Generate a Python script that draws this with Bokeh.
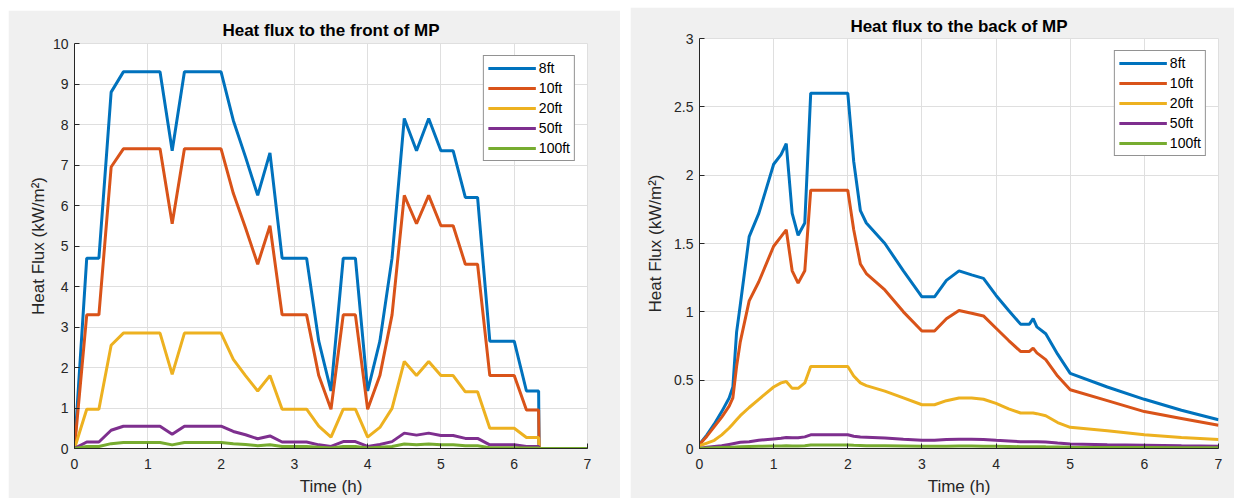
from bokeh.plotting import figure
from bokeh.models import Range1d, FixedTicker, Legend, LegendItem
from bokeh.layouts import row, column
from bokeh.embed import file_html
from bokeh.resources import INLINE

series_names = ["8ft", "10ft", "20ft", "50ft", "100ft"]
series_colors = ["#0072BD", "#D95319", "#EDB120", "#7E2F8E", "#77AC30"]

# ---- Heat flux to the front of MP ----
front_time = [0, 0.167, 0.333, 0.5, 0.667, 0.833, 1.0, 1.167, 1.333, 1.5, 1.667, 1.833,
              2.0, 2.167, 2.333, 2.5, 2.667, 2.833, 3.0, 3.167, 3.333, 3.5, 3.667, 3.833,
              4.0, 4.167, 4.333, 4.5, 4.667, 4.833, 5.0, 5.167, 5.333, 5.5, 5.667, 5.833,
              6.0, 6.167, 6.333, 6.34, 6.5, 6.667, 6.833, 7.0]
front_8ft = [0, 4.7, 4.7, 8.8, 9.3, 9.3, 9.3, 9.3, 7.35, 9.3, 9.3, 9.3, 9.3, 8.1, 7.2, 6.25,
             7.3, 4.7, 4.7, 4.7, 2.65, 1.42, 4.7, 4.7, 1.42, 2.65, 4.7, 8.15, 7.35, 8.15,
             7.35, 7.35, 6.2, 6.2, 2.65, 2.65, 2.65, 1.42, 1.42, 0, 0, 0, 0, 0]
front_10ft = [0, 3.3, 3.3, 6.95, 7.4, 7.4, 7.4, 7.4, 5.55, 7.4, 7.4, 7.4, 7.4, 6.3, 5.45,
              4.55, 5.5, 3.3, 3.3, 3.3, 1.8, 0.97, 3.3, 3.3, 0.97, 1.8, 3.3, 6.25, 5.55,
              6.25, 5.5, 5.5, 4.55, 4.55, 1.8, 1.8, 1.8, 0.95, 0.95, 0, 0, 0, 0, 0]
front_20ft = [0, 0.97, 0.97, 2.55, 2.85, 2.85, 2.85, 2.85, 1.83, 2.85, 2.85, 2.85, 2.85,
              2.2, 1.8, 1.42, 1.8, 0.97, 0.97, 0.97, 0.55, 0.28, 0.97, 0.97, 0.28, 0.52,
              0.99, 2.15, 1.8, 2.15, 1.8, 1.8, 1.4, 1.4, 0.5, 0.5, 0.5, 0.27, 0.27,
              0, 0, 0, 0, 0]
front_50ft = [0, 0.16, 0.16, 0.45, 0.55, 0.55, 0.55, 0.55, 0.35, 0.55, 0.55, 0.55, 0.55,
              0.42, 0.34, 0.24, 0.31, 0.16, 0.16, 0.16, 0.09, 0.05, 0.17, 0.17, 0.05, 0.1,
              0.17, 0.38, 0.33, 0.38, 0.32, 0.32, 0.25, 0.25, 0.09, 0.09, 0.09, 0.05, 0.05,
              0, 0, 0, 0, 0]
front_100ft = [0, 0.05, 0.05, 0.12, 0.15, 0.15, 0.15, 0.15, 0.09, 0.15, 0.15, 0.15, 0.15,
               0.12, 0.1, 0.07, 0.09, 0.05, 0.05, 0.05, 0.03, 0.01, 0.05, 0.05, 0.01, 0.03,
               0.05, 0.11, 0.09, 0.11, 0.09, 0.09, 0.07, 0.07, 0.02, 0.02, 0.02, 0.01, 0.01,
               0, 0, 0, 0, 0]

# ---- Heat flux to the back of MP ----
back_time = [0, 0.1, 0.2, 0.3, 0.4, 0.45, 0.5, 0.55, 0.67, 0.8, 1.0, 1.1, 1.17, 1.25, 1.33,
             1.42, 1.5, 2.0, 2.08, 2.17, 2.25, 2.5, 2.75, 3.0, 3.17, 3.33, 3.5, 3.67, 3.83,
             4.0, 4.17, 4.33, 4.45, 4.5, 4.55, 4.67, 4.83, 5.0, 5.5, 6.0, 6.5, 7.0]
back_8ft = [0.03, 0.1, 0.18, 0.27, 0.37, 0.45, 0.85, 1.05, 1.55, 1.72, 2.08, 2.15, 2.23,
            1.72, 1.56, 1.65, 2.6, 2.6, 2.1, 1.74, 1.65, 1.5, 1.3, 1.11, 1.11, 1.23, 1.3,
            1.27, 1.245, 1.12, 1.01, 0.91, 0.91, 0.95, 0.89, 0.84, 0.69, 0.55, 0.45, 0.36,
            0.28, 0.21]
back_10ft = [0.03, 0.09, 0.16, 0.23, 0.31, 0.37, 0.6, 0.78, 1.08, 1.22, 1.48, 1.55, 1.6,
             1.3, 1.21, 1.3, 1.89, 1.89, 1.6, 1.35, 1.28, 1.16, 1.0, 0.86, 0.86, 0.95, 1.01,
             0.99, 0.97, 0.88, 0.79, 0.71, 0.71, 0.735, 0.7, 0.65, 0.53, 0.43, 0.35, 0.27,
             0.22, 0.17]
back_20ft = [0.02, 0.04, 0.06, 0.1, 0.15, 0.18, 0.21, 0.24, 0.3, 0.36, 0.45, 0.48, 0.49,
             0.44, 0.44, 0.48, 0.6, 0.6, 0.53, 0.48, 0.46, 0.42, 0.37, 0.32, 0.32, 0.35,
             0.37, 0.37, 0.36, 0.33, 0.29, 0.26, 0.26, 0.26, 0.255, 0.24, 0.19, 0.155, 0.13,
             0.1, 0.08, 0.065]
back_50ft = [0.0, 0.01, 0.015, 0.02, 0.03, 0.035, 0.04, 0.045, 0.05, 0.06, 0.07, 0.075, 0.08,
             0.078, 0.078, 0.085, 0.1, 0.1, 0.09, 0.085, 0.083, 0.077, 0.068, 0.06, 0.06,
             0.065, 0.068, 0.067, 0.066, 0.06, 0.055, 0.05, 0.05, 0.05, 0.05, 0.047, 0.04,
             0.033, 0.028, 0.024, 0.02, 0.017]
back_100ft = [0.0, 0.003, 0.005, 0.007, 0.009, 0.01, 0.011, 0.012, 0.014, 0.016, 0.018,
              0.019, 0.02, 0.019, 0.019, 0.02, 0.025, 0.025, 0.023, 0.022, 0.021, 0.02,
              0.018, 0.016, 0.016, 0.017, 0.018, 0.018, 0.017, 0.016, 0.015, 0.013, 0.013,
              0.013, 0.013, 0.012, 0.011, 0.009, 0.008, 0.007, 0.006, 0.005]

x_ticks = [0, 1, 2, 3, 4, 5, 6, 7]
x_labels = ["0", "1", "2", "3", "4", "5", "6", "7"]
front_y_ticks = [0, 1, 2, 3, 4, 5, 6, 7, 8, 9, 10]
front_y_labels = ["0", "1", "2", "3", "4", "5", "6", "7", "8", "9", "10"]
back_y_ticks = [0, 0.5, 1, 1.5, 2, 2.5, 3]
back_y_labels = ["0", "0.5", "1", "1.5", "2", "2.5", "3"]

FONT = "Liberation Sans"
AX = "#262626"
GRID = "#dfdfdf"


def build(title, times, series, y_max, y_ticks, y_labels, width, height, b_left, b_right,
          b_top, b_bottom, title_standoff, ylab_standoff):
    p = figure(width=width, height=height, output_backend="svg", toolbar_location=None,
               x_range=Range1d(0, 7), y_range=Range1d(0, y_max),
               min_border_left=b_left, min_border_right=b_right,
               min_border_top=b_top, min_border_bottom=b_bottom)
    p.border_fill_color = "#f0f0f0"
    p.background_fill_color = "white"
    p.outline_line_color = GRID

    p.title.text = title
    p.title.align = "center"
    p.title.text_font = FONT
    p.title.text_font_size = "17px"
    p.title.text_font_style = "bold"
    p.title.text_color = "black"
    p.title.standoff = title_standoff

    for ax in (p.xaxis[0], p.yaxis[0]):
        ax.axis_line_color = AX
        ax.major_tick_line_color = AX
        ax.major_tick_in = 5
        ax.major_tick_out = 0
        ax.minor_tick_line_color = None
        ax.major_label_text_font = FONT
        ax.major_label_text_font_size = "14px"
        ax.major_label_text_color = AX
        ax.axis_label_text_font = FONT
        ax.axis_label_text_font_size = "17px"
        ax.axis_label_text_font_style = "normal"
        ax.axis_label_text_color = AX

    p.xaxis[0].ticker = FixedTicker(ticks=x_ticks)
    p.xaxis[0].major_label_overrides = dict(zip(x_ticks, x_labels))
    p.xaxis[0].major_label_standoff = 10
    p.xaxis[0].axis_label = "Time (h)"
    p.xaxis[0].axis_label_standoff = 5

    p.yaxis[0].ticker = FixedTicker(ticks=y_ticks)
    p.yaxis[0].major_label_overrides = dict(zip(y_ticks, y_labels))
    p.yaxis[0].major_label_standoff = 6
    p.yaxis[0].axis_label = "Heat Flux (kW/m²)"
    p.yaxis[0].axis_label_standoff = ylab_standoff

    p.xgrid.ticker = FixedTicker(ticks=x_ticks)
    p.ygrid.ticker = FixedTicker(ticks=y_ticks)
    p.grid.grid_line_color = GRID
    p.grid.grid_line_width = 1

    items = []
    for name, color, vals in zip(series_names, series_colors, series):
        r = p.line(times, vals, line_color=color, line_width=3)
        items.append(LegendItem(label=name, renderers=[r]))

    legend = Legend(items=items, location="top_right")
    legend.margin = 12
    legend.padding = 4
    legend.spacing = 4
    legend.glyph_width = 48
    legend.glyph_height = 16
    legend.label_height = 16
    legend.label_standoff = 3
    legend.label_text_font = FONT
    legend.label_text_font_size = "14px"
    legend.label_text_color = "black"
    legend.border_line_color = AX
    legend.border_line_width = 1
    legend.background_fill_color = "white"
    legend.background_fill_alpha = 1
    p.add_layout(legend)
    return p


# left panel: page y 10..500, frame 43..449 ; right panel: page y 7..500, frame 38..449
p1 = build("Heat flux to the front of MP", front_time,
           [front_8ft, front_10ft, front_20ft, front_50ft, front_100ft],
           10, front_y_ticks, front_y_labels, 612, 488, 66, 33, 33, 49, 8, 2)
p2 = build("Heat flux to the back of MP", back_time,
           [back_8ft, back_10ft, back_20ft, back_50ft, back_100ft],
           3, back_y_ticks, back_y_labels, 604, 491, 69, 16, 31, 49, 6, 6)

left = column(p1, margin=(10, 0, 0, 8))
right = column(p2, margin=(7, 0, 0, 10))
layout = row(left, right)
layout.background = "white"

open("out.html", "w").write(file_html(layout, INLINE))
